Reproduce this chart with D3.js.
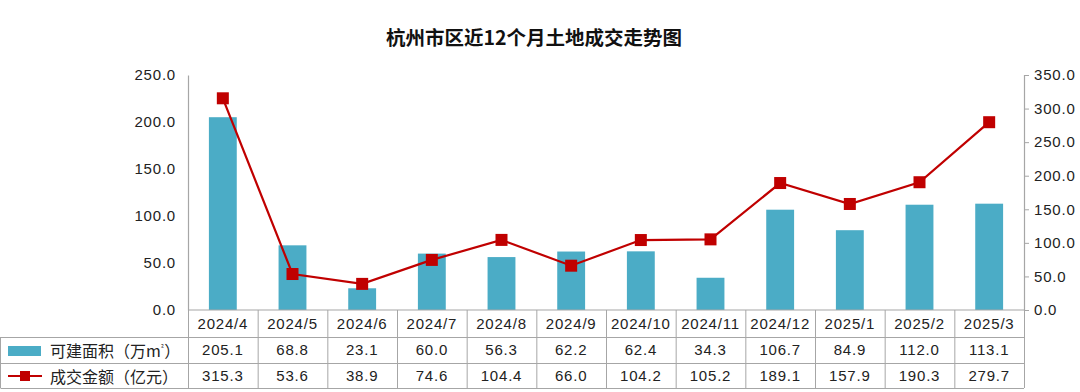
<!DOCTYPE html>
<html><head><meta charset="utf-8">
<script src="https://cdn.jsdelivr.net/npm/d3@7"></script>
<style>
html,body{margin:0;padding:0;background:#fff;}
svg{display:block;font-family:"Liberation Sans","Noto Sans CJK SC",sans-serif;}
</style></head>
<body><svg id="c" width="1080" height="392"></svg>
<script>
const title = "杭州市区近12个月土地成交走势图";
const months = ["2024/4","2024/5","2024/6","2024/7","2024/8","2024/9","2024/10","2024/11","2024/12","2025/1","2025/2","2025/3"];
const areaValues = [205.1,68.8,23.1,60.0,56.3,62.2,62.4,34.3,106.7,84.9,112.0,113.1];
const amountValues = [315.3,53.6,38.9,74.6,104.4,66.0,104.2,105.2,189.1,157.9,190.3,279.7];
const leftTicks = [0,50,100,150,200,250];
const rightTicks = [0,50,100,150,200,250,300,350];
const seriesNames = ["可建面积（万m", "成交金额（亿元）"];

const svg = d3.select("#c");
const L = 188, R = 1024, T = 75, B = 310;
const rowY = [310, 337, 363, 388];
const barColor = "#4bacc6", lineColor = "#c00000", gridColor = "#a6a6a6";
const cjk = '"Noto Sans CJK SC",sans-serif';
const numFont = '"Liberation Sans",sans-serif';

const x = d3.scaleBand().domain(months).range([L, R]).paddingInner(0.6).paddingOuter(0.3);
const xb = d3.scaleBand().domain(months).range([L, R]);
const yL = d3.scaleLinear().domain([0, 250]).range([B, T]);
const yR = d3.scaleLinear().domain([0, 350]).range([B, T]);

// title
svg.append("text").attr("x", 534).attr("y", 45).attr("text-anchor", "middle")
  .attr("font-family", cjk).attr("font-weight", "bold").attr("font-size", 19.5).attr("fill", "#111").text(title);

// bars
svg.append("g").selectAll("rect").data(months).join("rect")
  .attr("x", d => x(d)).attr("width", x.bandwidth())
  .attr("y", (d, i) => yL(areaValues[i])).attr("height", (d, i) => B - yL(areaValues[i]))
  .attr("fill", barColor);

// left axis
const gl = svg.append("g").attr("transform", `translate(${L},0)`)
  .call(d3.axisLeft(yL).tickValues(leftTicks).tickSize(0).tickPadding(12).tickFormat(d3.format(".1f")));
gl.select(".domain").attr("stroke", gridColor).attr("stroke-width", 1.2);
gl.selectAll("text").attr("font-size", 15).attr("fill", "#222").attr("font-family", numFont).attr("letter-spacing", 0.8);

// right axis
const gr = svg.append("g").attr("transform", `translate(${R},0)`)
  .call(d3.axisRight(yR).tickValues(rightTicks).tickSize(5).tickPadding(5).tickFormat(d3.format(".1f")));
gr.select(".domain").attr("stroke", gridColor).attr("stroke-width", 1.2);
gr.selectAll("line").attr("stroke", gridColor);
gr.selectAll("text").attr("font-size", 15).attr("fill", "#222").attr("font-family", numFont).attr("letter-spacing", 0.8);

// baseline
svg.append("line").attr("x1", L).attr("x2", R).attr("y1", B).attr("y2", B).attr("stroke", gridColor).attr("stroke-width", 1.2);

// line series
const line = d3.line().x((d, i) => xb(months[i]) + xb.bandwidth() / 2).y(d => yR(d));
svg.append("path").datum(amountValues).attr("d", line).attr("fill", "none").attr("stroke", lineColor).attr("stroke-width", 2.2);
svg.append("g").selectAll("rect").data(amountValues).join("rect")
  .attr("x", (d, i) => xb(months[i]) + xb.bandwidth() / 2 - 6).attr("y", d => yR(d) - 6)
  .attr("width", 12).attr("height", 12).attr("fill", lineColor);

// table grid
const tg = svg.append("g").attr("stroke", gridColor).attr("stroke-width", 1);
[rowY[1], rowY[2], rowY[3]].forEach(y => tg.append("line").attr("x1", 0.5).attr("x2", R).attr("y1", y + 0.5).attr("y2", y + 0.5));
tg.append("line").attr("x1", 0.5).attr("x2", 0.5).attr("y1", rowY[1]).attr("y2", rowY[3]);
months.forEach(m => tg.append("line").attr("x1", xb(m) + 0.5).attr("x2", xb(m) + 0.5).attr("y1", B).attr("y2", rowY[3]));
tg.append("line").attr("x1", R + 0.5).attr("x2", R + 0.5).attr("y1", B).attr("y2", rowY[3]);

// table text
const tt = svg.append("g").attr("font-size", 15).attr("fill", "#222").attr("text-anchor", "middle").attr("font-family", numFont).attr("letter-spacing", 0.8);
months.forEach((m, i) => {
  const cx = xb(m) + xb.bandwidth() / 2;
  tt.append("text").attr("x", cx).attr("y", 329).text(m);
  tt.append("text").attr("x", cx).attr("y", 355).text(areaValues[i].toFixed(1));
  tt.append("text").attr("x", cx).attr("y", 381).text(amountValues[i].toFixed(1));
});

// legend cells
svg.append("rect").attr("x", 8).attr("y", 346).attr("width", 33).attr("height", 10).attr("fill", barColor);
const t1 = svg.append("text").attr("x", 50).attr("y", 357).attr("font-size", 16).attr("fill", "#222").attr("font-family", cjk).text(seriesNames[0]);
t1.append("tspan").attr("font-size", 8).attr("dy", -6).text("²");
t1.append("tspan").attr("dy", 6).text("）");
svg.append("line").attr("x1", 8).attr("x2", 42).attr("y1", 376).attr("y2", 376).attr("stroke", lineColor).attr("stroke-width", 2.2);
svg.append("rect").attr("x", 20).attr("y", 371).attr("width", 10).attr("height", 10).attr("fill", lineColor);
svg.append("text").attr("x", 50).attr("y", 383).attr("font-size", 16).attr("fill", "#222").attr("font-family", cjk).text(seriesNames[1]);
</script></body></html>
